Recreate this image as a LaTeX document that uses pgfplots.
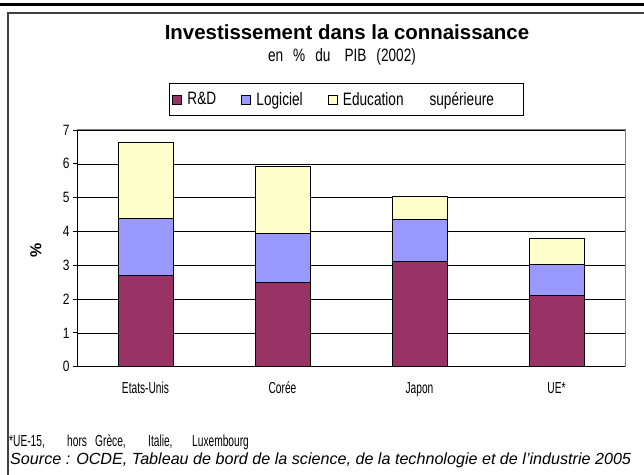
\documentclass[border=0pt]{standalone}
\usepackage{pgfplots}
\pgfplotsset{compat=1.18}
\usepackage{fontspec}
\setmainfont{Liberation Sans}
\newfontfamily\nfa[FakeStretch=0.76]{Liberation Sans}
\newfontfamily\nfb[FakeStretch=0.64]{Liberation Sans}
\newfontfamily\nfc[FakeStretch=0.8]{Liberation Sans}
\definecolor{rd}{HTML}{993366}
\definecolor{logi}{HTML}{9999FF}
\definecolor{edu}{HTML}{FFFFCC}
\begin{document}
\begin{tikzpicture}[x=1bp,y=1bp]
\useasboundingbox (0,0) rectangle (644,475);
\fill[white] (0,0) rectangle (644,475);
\draw[line width=3bp] (0,470) -- (644,470);
\draw[line width=1.5bp, black!75] (8,-10) -- (8,462) -- (660,462);
\node[anchor=base, font=\fontsize{20.5}{22}\selectfont\bfseries, inner sep=0] at (347,435) {Investissement dans la connaissance};
\node[anchor=base, font=\nfa\fontsize{18}{20}\selectfont, inner sep=0] at (342,413) {en\hspace{10bp}\%\hspace{10bp}du\hspace{14bp}PIB\hspace{10bp}(2002)};
\begin{axis}[
  at={(77bp,108.3bp)}, anchor=south west,
  scale only axis, width=548bp, height=236.7bp,
  ybar stacked, bar width=0.4,
  xmin=-0.5, xmax=3.5, ymin=0, ymax=7,
  axis x line*=bottom, axis y line*=left,
  axis line style={black, line width=0.8bp},
  xtick={0,1,2,3},
  xticklabels={Etats-Unis,Corée,Japon,UE*},
  x tick label style={font=\nfb\fontsize{16}{18}\selectfont, yshift=-8bp},
  extra x ticks={-0.5,0.5,1.5,2.5,3.5},
  extra x tick labels={},
  extra x tick style={major tick length=5bp, tick style={black, line width=0.8bp}, grid=none},
  tick align=outside,
  x tick style={draw=none},
  ytick={0,1,...,7},
  y tick label style={font=\nfc\fontsize{15}{17}\selectfont},
  y tick style={black, line width=0.8bp},
  major tick length=4bp,
  ymajorgrids, grid style={black, line width=0.6bp},
  /pgf/number format/assume math mode=true,
  legend columns=3,
  legend style={at={(0.491,1.129)}, anchor=center, draw=black, line width=0.8bp,
    font=\nfa\fontsize{18}{20}\selectfont, inner xsep=3bp, inner ysep=6.5bp,
    /tikz/every even column/.append style={column sep=23bp}},
  legend image code/.code={\draw[#1, line width=0.6bp] (0bp,-4.5bp) rectangle (9bp,4.5bp); \path[draw=none,fill=none] (0bp,0bp) -- (13bp,0bp);},
  legend cell align=left,
  clip=false,
]
\addplot[fill=rd, draw=black, line width=0.8bp] coordinates {(0,2.69) (1,2.50) (2,3.11) (3,2.12)};
\addplot[fill=logi, draw=black, line width=0.8bp] coordinates {(0,1.70) (1,1.45) (2,1.25) (3,0.91)};
\addplot[fill=edu, draw=black, line width=0.8bp] coordinates {(0,2.25) (1,1.97) (2,0.68) (3,0.77)};
\legend{R\&D, Logiciel, Education\hspace{26bp}supérieure\hspace{24bp}\null}
\draw[gray, line width=1bp] (rel axis cs:0,1) -- (rel axis cs:1,1) -- (rel axis cs:1,0);
\end{axis}
\node[rotate=90, font=\fontsize{16}{18}\selectfont\bfseries] at (36,225) {\%};
\begin{scope}[every node/.style={anchor=base west, inner sep=0, font=\nfb\fontsize{16}{18}\selectfont}]
\node at (9,28.3) {*UE-15,};
\node at (67,28.3) {hors};
\node at (95,28.3) {Grèce,};
\node at (148,28.3) {Italie,};
\node at (192,28.3) {Luxembourg};
\end{scope}
\node[anchor=base west, inner sep=0, font=\fontsize{16.2}{18}\selectfont\itshape] at (10,10) {Source : OCDE, Tableau de bord de la science, de la technologie et de l'industrie 2005};
\end{tikzpicture}
\end{document}
